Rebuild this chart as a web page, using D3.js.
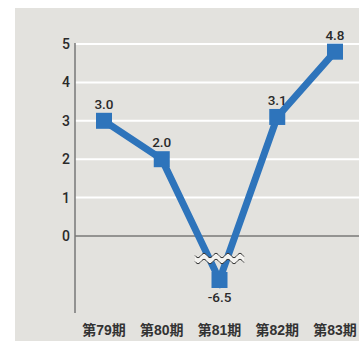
<!DOCTYPE html>
<html><head><meta charset="utf-8">
<script src="https://cdn.jsdelivr.net/npm/d3@7"></script>
<style>
html,body{margin:0;padding:0;background:#fff;}
svg{display:block;}
text{font-family:"Roboto","Liberation Sans","Noto Sans CJK JP",sans-serif;}
text.cat{font-family:"Liberation Sans","Noto Sans CJK JP",sans-serif;}
</style></head>
<body>
<svg id="c" width="359" height="341"></svg>
<script>
const categories = ["第79期","第80期","第81期","第82期","第83期"];
const values = [3.0, 2.0, -6.5, 3.1, 4.8];
const valueLabels = ["3.0","2.0","-6.5","3.1","4.8"];
const yTicks = [0,1,2,3,4,5];

const svg = d3.select("#c");
svg.append("rect").attr("x",15).attr("y",8).attr("width",344).attr("height",333).attr("fill","#e3e2de");

const x = d3.scalePoint().domain(categories).range([104,335]);
// broken axis: piecewise scale
const y = d3.scaleLinear().domain([-6.5,0,5]).range([280,236,44]);

const axisX = 75, right = 359;
svg.append("g").selectAll("line").data(yTicks.filter(d=>d>0)).join("line")
  .attr("x1",axisX).attr("x2",right).attr("y1",d=>y(d)).attr("y2",d=>y(d))
  .attr("stroke","#fff").attr("stroke-width",2);
svg.append("line").attr("x1",axisX).attr("x2",right).attr("y1",y(0)).attr("y2",y(0))
  .attr("stroke","#444").attr("stroke-width",1);
svg.append("line").attr("x1",axisX).attr("x2",axisX).attr("y1",y(5)-1).attr("y2",313)
  .attr("stroke","#777").attr("stroke-width",1.5);
svg.append("g").selectAll("text").data(yTicks).join("text")
  .attr("x",70).attr("y",d=>y(d)).attr("dy","0.36em").attr("text-anchor","end")
  .attr("font-size",14).attr("font-weight",500).attr("fill","#2a2a2a").text(d=>d);

const line = d3.line().x((d,i)=>x(categories[i])).y(d=>y(d));
svg.append("path").datum(values).attr("d",line).attr("fill","none")
  .attr("stroke","#2e74bb").attr("stroke-width",7).attr("stroke-linejoin","miter");

function wave(y0){
  const pts=[];
  for(let xx=195;xx<=244;xx+=1){pts.push([xx,y0+2.3*Math.sin((xx-195)/12*2*Math.PI)]);}
  return pts;
}
const up = wave(255.5), lo = wave(261.5);
const area = d3.area().x(d=>d[0]).y0(d=>d[1]).y1((d,i)=>lo[i][1]).curve(d3.curveBasis);
svg.append("path").datum(up).attr("d",area).attr("fill","#f4f3f0");
const wl = d3.line().curve(d3.curveBasis);
svg.append("path").attr("d",wl(up)).attr("fill","none").attr("stroke","#333").attr("stroke-width",1);
svg.append("path").attr("d",wl(lo)).attr("fill","none").attr("stroke","#333").attr("stroke-width",1);

svg.append("g").selectAll("rect").data(values).join("rect")
  .attr("x",(d,i)=>x(categories[i])-8).attr("y",d=>y(d)-8)
  .attr("width",16).attr("height",16).attr("fill","#2e74bb");

svg.append("g").selectAll("text").data(values).join("text")
  .attr("x",(d,i)=>x(categories[i])).attr("y",d=> d<0 ? y(d)+22 : y(d)-12)
  .attr("text-anchor","middle").attr("font-size",13.5).attr("font-weight",500).attr("fill","#2a2a2a")
  .text((d,i)=>valueLabels[i]);

svg.append("g").selectAll("text").data(categories).join("text").attr("class","cat")
  .attr("x",d=>x(d)).attr("y",335).attr("text-anchor","middle")
  .attr("font-size",14).attr("font-weight",700).attr("fill","#333").text(d=>d);
</script>
</body></html>
